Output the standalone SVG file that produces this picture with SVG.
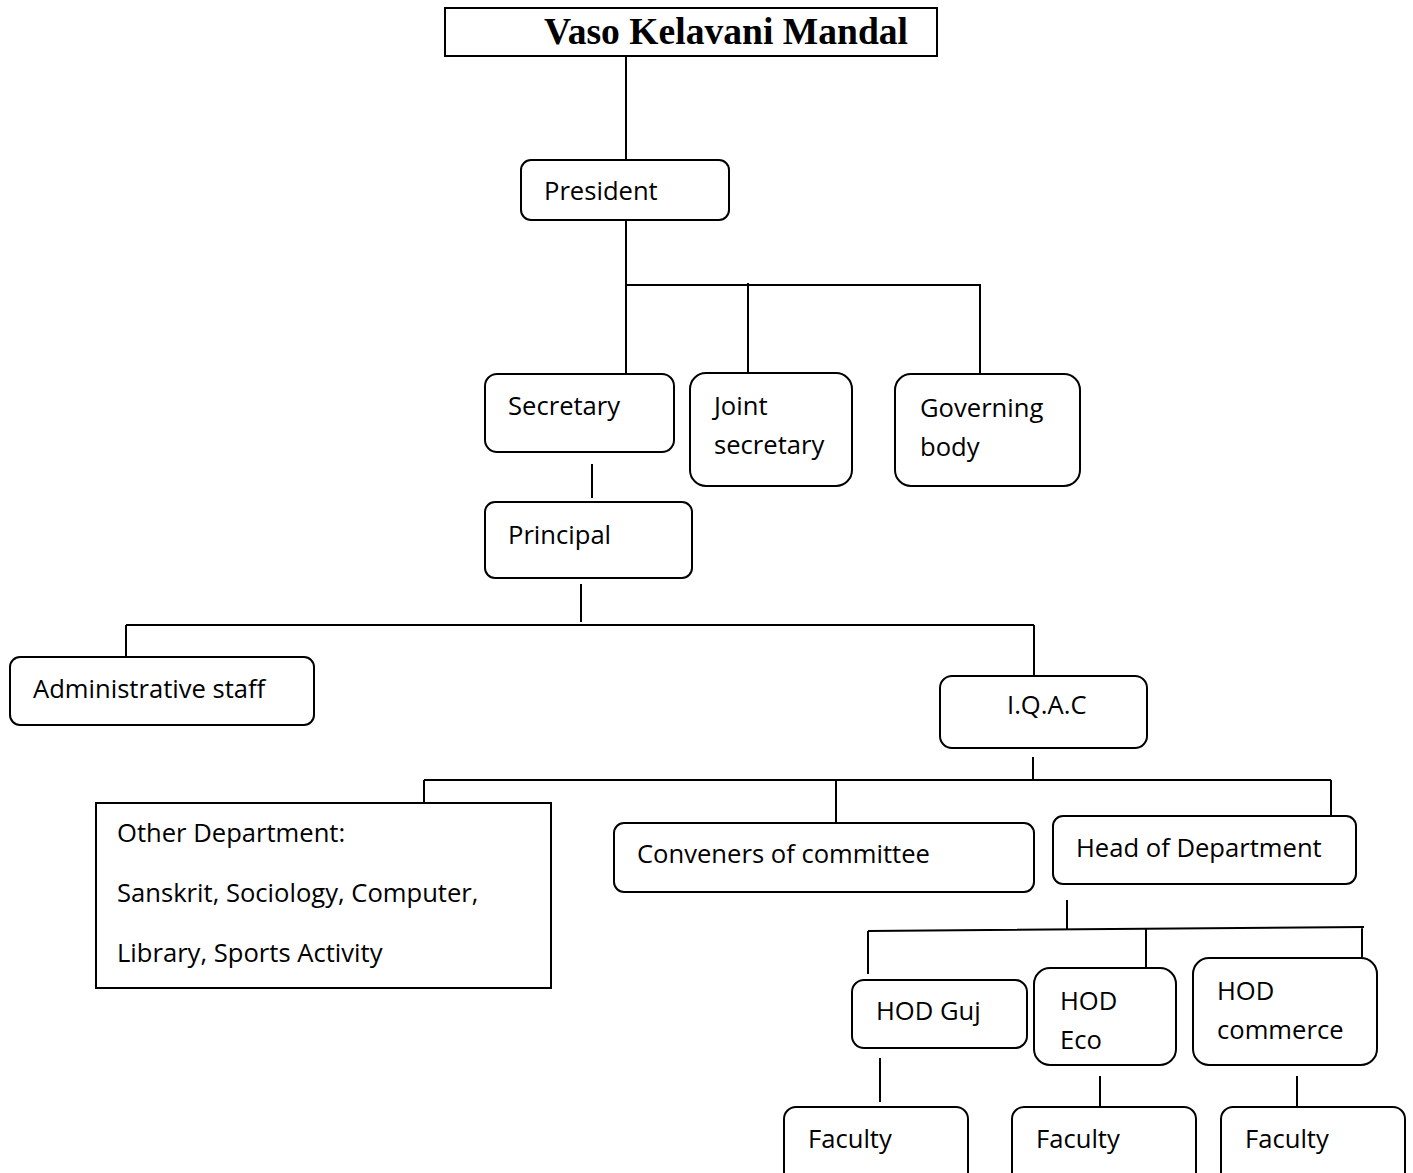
<svg xmlns="http://www.w3.org/2000/svg" width="1413" height="1173" viewBox="0 0 1413 1173">
<style>
.box{fill:#fff;stroke:#000;stroke-width:2}
.ln{stroke:#000;stroke-width:2;fill:none}
.t{font-family:"Open Sans","Noto Sans",sans-serif;font-size:25.6px;fill:#000}
.title{font-family:"Liberation Serif","Times New Roman",serif;font-weight:bold;font-size:37.6px;fill:#000}
</style>
<rect width="1413" height="1173" fill="#fff"/>
<g id="connectors" class="ln">
<path d="M626 56V160"/>
<path d="M626 220V374M626 285H981M748 283V373M980 285V374"/>
<path d="M592 464V498"/>
<path d="M581 584V622M126 625H1034M126 625V657M1034 625V676"/>
<path d="M1033 757V780M424 780H1331M424 780V803M836 779V823M1331 780V816"/>
<path d="M1067 900V929M868 931L1364 927M868 931V974M1146 928V968M1362 927V957"/>
<path d="M880 1058V1102M1100 1076V1107M1297 1076V1107"/>
</g>
<g id="vkm"><rect class="box" x="445" y="8" width="492" height="48"/><text class="title" x="544" y="44">Vaso Kelavani Mandal</text></g>
<g id="president"><rect class="box" x="521" y="160" width="208" height="60" rx="10"/><text class="t" x="544" y="200">President</text></g>
<g id="secretary"><rect class="box" x="485" y="374" width="189" height="78" rx="12"/><text class="t" x="508" y="415">Secretary</text></g>
<g id="joint"><rect class="box" x="690" y="373" width="162" height="113" rx="16"/><text class="t" x="714" y="415">Joint</text><text class="t" x="714" y="454">secretary</text></g>
<g id="governing"><rect class="box" x="895" y="374" width="185" height="112" rx="16"/><text class="t" x="920" y="417">Governing</text><text class="t" x="920" y="456">body</text></g>
<g id="principal"><rect class="box" x="485" y="502" width="207" height="76" rx="10"/><text class="t" x="508" y="544">Principal</text></g>
<g id="admin"><rect class="box" x="10" y="657" width="304" height="68" rx="10"/><text class="t" x="33" y="698">Administrative staff</text></g>
<g id="iqac"><rect class="box" x="940" y="676" width="207" height="72" rx="12"/><text class="t" x="1007" y="714">I.Q.A.C</text></g>
<g id="other"><rect class="box" x="96" y="803" width="455" height="185"/><text class="t" x="117" y="842">Other Department:</text><text class="t" x="117" y="902">Sanskrit, Sociology, Computer,</text><text class="t" x="117" y="962">Library, Sports Activity</text></g>
<g id="conveners"><rect class="box" x="614" y="823" width="420" height="69" rx="10"/><text class="t" x="637" y="863">Conveners of committee</text></g>
<g id="hod"><rect class="box" x="1053" y="816" width="303" height="68" rx="10"/><text class="t" x="1076" y="857">Head of Department</text></g>
<g id="hodguj"><rect class="box" x="852" y="980" width="175" height="68" rx="12"/><text class="t" x="876" y="1020">HOD Guj</text></g>
<g id="hodeco"><rect class="box" x="1034" y="968" width="142" height="97" rx="16"/><text class="t" x="1060" y="1010">HOD</text><text class="t" x="1060" y="1049">Eco</text></g>
<g id="hodcom"><rect class="box" x="1193" y="958" width="184" height="107" rx="16"/><text class="t" x="1217" y="1000">HOD</text><text class="t" x="1217" y="1039">commerce</text></g>
<g id="fac1"><rect class="box" x="784" y="1107" width="184" height="90" rx="12"/><text class="t" x="808" y="1148">Faculty</text></g>
<g id="fac2"><rect class="box" x="1012" y="1107" width="184" height="90" rx="12"/><text class="t" x="1036" y="1148">Faculty</text></g>
<g id="fac3"><rect class="box" x="1221" y="1107" width="184" height="90" rx="12"/><text class="t" x="1245" y="1148">Faculty</text></g>
</svg>
